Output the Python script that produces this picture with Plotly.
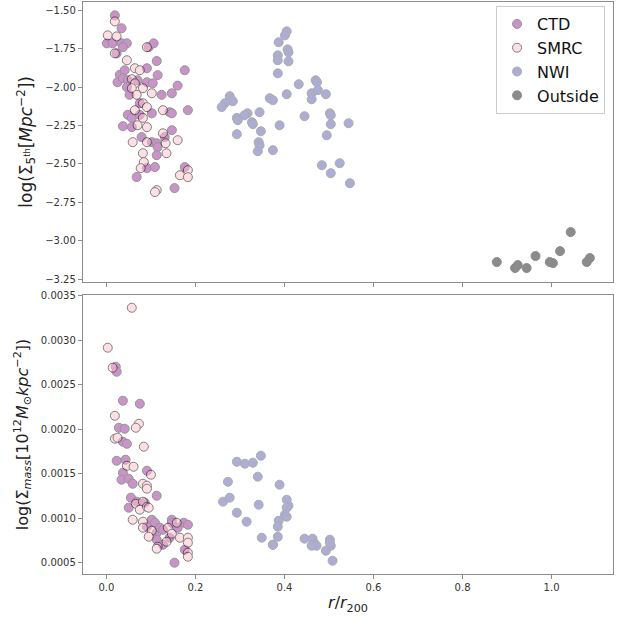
import plotly.graph_objects as go

# ---------------- data (top panel: log Sigma_5th vs r/r200) ----------------
ctd_top_r = [0.019, 0.034, 0.001, 0.014, 0.034, 0.046, 0.037, 0.023, 0.095, 0.106, 0.113, 0.176,
             0.030, 0.041, 0.091, 0.025, 0.037, 0.048, 0.070, 0.046, 0.091, 0.104, 0.115, 0.124,
             0.147, 0.160, 0.052, 0.075, 0.048, 0.057, 0.075, 0.102, 0.142, 0.147, 0.183, 0.037,
             0.057, 0.147, 0.079, 0.102, 0.113, 0.115, 0.131, 0.113, 0.091, 0.109, 0.068, 0.176,
             0.153]
ctd_top_sigma = [-1.533, -1.617, -1.715, -1.715, -1.715, -1.715, -1.740, -1.780, -1.740, -1.715,
                 -1.830, -1.890, -1.920, -1.890, -1.877, -1.968, -1.942, -1.955, -1.955, -2.000,
                 -1.968, -1.975, -1.922, -2.050, -2.040, -1.990, -2.050, -2.105, -2.180, -2.200,
                 -2.180, -2.170, -2.163, -2.170, -2.150, -2.254, -2.260, -2.280, -2.325, -2.358,
                 -2.365, -2.390, -2.325, -2.443, -2.527, -2.520, -2.585, -2.520, -2.657]

smrc_top_r = [0.019, 0.003, 0.023, 0.019, 0.046, 0.091, 0.064, 0.075, 0.057, 0.064, 0.057, 0.082,
              0.102, 0.068, 0.082, 0.091, 0.064, 0.082, 0.127, 0.070, 0.091, 0.059, 0.091, 0.127,
              0.133, 0.160, 0.135, 0.082, 0.084, 0.077, 0.165, 0.183, 0.183, 0.113, 0.109]
smrc_top_sigma = [-1.572, -1.663, -1.670, -1.780, -1.825, -1.740, -1.877, -1.890, -1.948, -1.975,
                  -2.007, -2.007, -2.040, -2.050, -2.105, -2.130, -2.150, -2.200, -2.150, -2.248,
                  -2.260, -2.358, -2.358, -2.300, -2.365, -2.345, -2.430, -2.430, -2.488, -2.527,
                  -2.573, -2.540, -2.586, -2.670, -2.683]

nwi_top_r = [0.405, 0.401, 0.387, 0.407, 0.409, 0.385, 0.385, 0.409, 0.385, 0.432, 0.470, 0.473,
             0.461, 0.475, 0.493, 0.461, 0.405, 0.367, 0.374, 0.277, 0.284, 0.266, 0.259, 0.317,
             0.344, 0.310, 0.293, 0.295, 0.327, 0.329, 0.445, 0.502, 0.504, 0.504, 0.544, 0.389,
             0.347, 0.293, 0.495, 0.342, 0.344, 0.340, 0.374, 0.484, 0.524, 0.504, 0.547]
nwi_top_sigma = [-1.637, -1.663, -1.708, -1.754, -1.773, -1.793, -1.825, -1.832, -1.910, -1.981,
                 -1.955, -1.968, -2.040, -2.020, -2.046, -2.079, -2.046, -2.072, -2.085, -2.059,
                 -2.092, -2.105, -2.130, -2.170, -2.163, -2.183, -2.200, -2.215, -2.228, -2.241,
                 -2.189, -2.170, -2.183, -2.241, -2.235, -2.248, -2.287, -2.306, -2.313, -2.358,
                 -2.378, -2.417, -2.410, -2.508, -2.495, -2.560, -2.625]

out_top_r = [0.877, 0.918, 0.924, 0.944, 0.964, 0.996, 1.003, 1.019, 1.043, 1.079, 1.086]
out_top_sigma = [-3.138, -3.177, -3.158, -3.177, -3.099, -3.138, -3.145, -3.067, -2.943, -3.138,
                 -3.112]

# ---------------- data (bottom panel: Sigma_mass vs r/r200) ----------------
ctd_bot_r = [0.021, 0.023, 0.037, 0.075, 0.028, 0.041, 0.037, 0.046, 0.023, 0.043, 0.037, 0.034,
             0.050, 0.059, 0.091, 0.113, 0.055, 0.068, 0.050, 0.102, 0.109, 0.091, 0.113, 0.120,
             0.127, 0.147, 0.147, 0.160, 0.174, 0.183, 0.113, 0.127, 0.142, 0.176, 0.153, 0.086]
ctd_bot_mass = [0.002702, 0.002646, 0.002320, 0.002286, 0.002016, 0.002005, 0.001859, 0.001836,
                0.001645, 0.001657, 0.001510, 0.001432, 0.001443, 0.001387, 0.001533, 0.001252,
                0.001230, 0.001185, 0.001117, 0.000982, 0.000948, 0.000904, 0.000836, 0.000892,
                0.000870, 0.000982, 0.000948, 0.000892, 0.000948, 0.000926, 0.000757, 0.000701,
                0.000780, 0.000645, 0.000499, 0.001174]

smrc_bot_r = [0.057, 0.003, 0.014, 0.019, 0.073, 0.066, 0.019, 0.025, 0.084, 0.046, 0.061, 0.100,
              0.082, 0.091, 0.091, 0.066, 0.082, 0.075, 0.091, 0.095, 0.059, 0.082, 0.082, 0.102,
              0.138, 0.095, 0.115, 0.113, 0.135, 0.147, 0.165, 0.183, 0.183, 0.183, 0.183, 0.158]
smrc_bot_mass = [0.003365, 0.002916, 0.002691, 0.002151, 0.002061, 0.002016, 0.001893, 0.001904,
                 0.001803, 0.001589, 0.001578, 0.001488, 0.001387, 0.001365, 0.001331, 0.001162,
                 0.001185, 0.001095, 0.001128, 0.001117, 0.000982, 0.000960, 0.000892, 0.000859,
                 0.000892, 0.000791, 0.000679, 0.000656, 0.000735, 0.000825, 0.000780, 0.000611,
                 0.000780, 0.000724, 0.000566, 0.000948]

nwi_bot_r = [0.293, 0.311, 0.329, 0.347, 0.273, 0.340, 0.389, 0.262, 0.277, 0.342, 0.405, 0.409,
             0.405, 0.401, 0.405, 0.293, 0.315, 0.387, 0.385, 0.349, 0.385, 0.374, 0.445, 0.463,
             0.468, 0.472, 0.461, 0.493, 0.502, 0.504, 0.508, 0.502, 0.374]
nwi_bot_mass = [0.001634, 0.001612, 0.001623, 0.001702, 0.001409, 0.001466, 0.001376, 0.001185,
                0.001230, 0.001151, 0.001207, 0.001140, 0.001117, 0.001038, 0.001016, 0.001061,
                0.000960, 0.000971, 0.000904, 0.000780, 0.000791, 0.000701, 0.000769, 0.000769,
                0.000713, 0.000690, 0.000690, 0.000634, 0.000758, 0.000690, 0.000521, 0.000724,
                0.000701]

# ---------------- styling ----------------
groups = [
    ("CTD", "purple", 0.42, ctd_top_r, ctd_top_sigma, ctd_bot_r, ctd_bot_mass),
    ("SMRC", "pink", 0.5, smrc_top_r, smrc_top_sigma, smrc_bot_r, smrc_bot_mass),
    ("NWI", "navy", 0.32, nwi_top_r, nwi_top_sigma, nwi_bot_r, nwi_bot_mass),
]

fig = go.Figure()
for name, col, alpha, tr, ts, br, bm in groups:
    mk = dict(size=9, color=col, line=dict(color="black", width=1))
    fig.add_trace(go.Scatter(x=tr, y=ts, mode="markers", name=name, marker=mk,
                             opacity=alpha, xaxis="x", yaxis="y", legendgroup=name))
    fig.add_trace(go.Scatter(x=br, y=bm, mode="markers", name=name, marker=mk,
                             opacity=alpha, xaxis="x2", yaxis="y2", legendgroup=name,
                             showlegend=False))
fig.add_trace(go.Scatter(x=out_top_r, y=out_top_sigma, mode="markers", name="Outside",
                         marker=dict(size=9, color="black", line=dict(color="black", width=1)),
                         opacity=0.45, xaxis="x", yaxis="y"))

spine = "#8c8c8c"
tickfont = dict(family="DejaVu Sans", size=10, color="#333333")
common_x = dict(range=[-0.0526, 1.138], tickvals=[0, 0.2, 0.4, 0.6, 0.8, 1.0],
                showline=True, mirror=True, linecolor=spine, linewidth=1.3, automargin=False,
                ticks="outside", ticklen=4, tickcolor=spine, showgrid=False, zeroline=False,
                tickfont=tickfont)
common_y = dict(showline=True, mirror=True, linecolor=spine, linewidth=1.3, automargin=False,
                ticks="outside", ticklen=4, tickcolor=spine, showgrid=False, zeroline=False,
                tickfont=tickfont)

fig.update_layout(
    width=625, height=618,
    margin=dict(l=83, r=12, t=2, b=44),
    plot_bgcolor="white", paper_bgcolor="white",
    font=dict(family="DejaVu Sans", color="#222222"),
    xaxis=dict(common_x, anchor="y", domain=[0, 1], showticklabels=False),
    xaxis2=dict(common_x, anchor="y2", domain=[0, 1], tickformat=".1f",
                title=dict(text="<i>r</i>/<i>r</i><sub>200</sub>",
                           font=dict(size=16, color="#222222"), standoff=4)),
    yaxis=dict(common_y, domain=[0.511, 1.0], range=[-3.266, -1.446],
               tickvals=[-1.5, -1.75, -2.0, -2.25, -2.5, -2.75, -3.0, -3.25], tickformat=".2f",
               title=dict(text="log(Σ<sub>5<sup>th</sup></sub>[<i>Mpc</i><sup>−2</sup>])",
                          font=dict(size=17, color="#222222"), standoff=8)),
    yaxis2=dict(common_y, domain=[0.0, 0.488], range=[0.000372, 0.00351],
                tickvals=[0.0005, 0.001, 0.0015, 0.002, 0.0025, 0.003, 0.0035], tickformat=".4f",
                title=dict(text="log(Σ<sub><i>mass</i></sub>[10<sup>12</sup><i>M</i><sub>⊙</sub><i>kpc</i><sup>−2</sup>])",
                           font=dict(size=16, color="#222222"), standoff=8)),
    legend=dict(x=0.985, y=0.993, xanchor="right", yanchor="top",
                bgcolor="rgba(255,255,255,0.8)", bordercolor="#cccccc", borderwidth=1,
                font=dict(size=16, color="#111111"), tracegroupgap=0, itemwidth=30),
    showlegend=True,
)

fig.write_html("out.html", config={"displayModeBar": False},
               post_script="document.body.style.margin='0';document.body.style.padding='0';")
